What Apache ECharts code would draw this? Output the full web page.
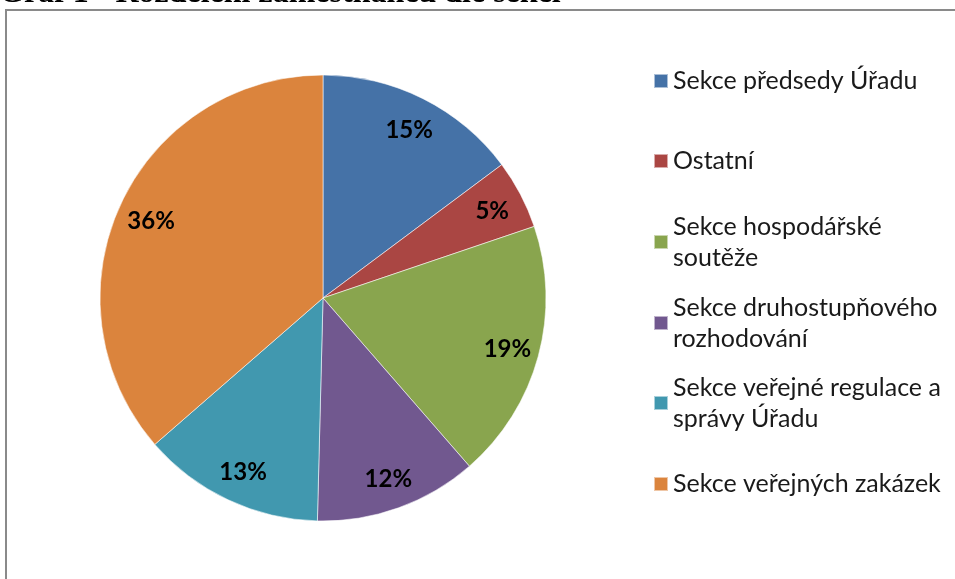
<!DOCTYPE html>
<html>
<head>
<meta charset="utf-8">
<script src="https://cdn.jsdelivr.net/npm/echarts@6/dist/echarts.min.js"></script>
<style>
html,body{margin:0;padding:0;background:#fff;}
#c{width:955px;height:579px;}
</style>
</head>
<body>
<div id="c"></div>
<script>
var titleText = 'Graf 1 - Rozdělení zaměstnanců dle sekcí';
var categories = ['Sekce předsedy Úřadu', 'Ostatní', 'Sekce hospodářské soutěže', 'Sekce druhostupňového rozhodování', 'Sekce veřejné regulace a správy Úřadu', 'Sekce veřejných zakázek'];
var legendLabels = ['Sekce předsedy Úřadu', 'Ostatní', 'Sekce hospodářské\nsoutěže', 'Sekce druhostupňového\nrozhodování', 'Sekce veřejné regulace a\nsprávy Úřadu', 'Sekce veřejných zakázek'];
var values = [14.8, 5.0, 18.8, 11.8, 13.2, 36.4];
var colors = ['#4572A7', '#AA4643', '#89A54E', '#71588F', '#4198AF', '#DB843D'];

var chart = echarts.init(document.getElementById('c'), null, {renderer: 'canvas'});
var data = categories.map(function (n, i) {
  return {name: n, value: values[i], itemStyle: {color: colors[i]}};
});

var LH = 31;
var iconY = [80, 160, 241, 322, 402, 483];
var legends = categories.map(function (n, i) {
  var lines = legendLabels[i].split('\n').length;
  var extra = (lines - 1) * LH;
  return {
    orient: 'vertical',
    left: 653,
    top: iconY[i] - LH / 2 - extra + 1,
    padding: 0,
    itemWidth: 14,
    itemHeight: 14,
    itemGap: 6,
    icon: 'rect',
    selectedMode: false,
    data: [n],
    formatter: function () { return legendLabels[i]; },
    textStyle: {
      fontFamily: 'Lato',
      fontSize: 25,
      color: '#1a1a1a',
      lineHeight: LH,
      padding: [extra, 0, 0, 0]
    }
  };
});

chart.setOption({
  animation: false,
  backgroundColor: '#fff',
  color: colors,
  legend: legends,
  graphic: [
    {
      type: 'rect',
      shape: {x: 6, y: 10, width: 1000, height: 700},
      style: {fill: 'none', stroke: '#8a8a8a', lineWidth: 2},
      silent: true
    },
    {
      type: 'text',
      left: -1,
      top: -22,
      style: {text: titleText, font: 'bold 32px "Liberation Serif"', fill: '#000'},
      silent: true
    }
  ],
  series: [
    {
      type: 'pie',
      center: [323, 298],
      radius: [0, 223],
      startAngle: 90,
      clockwise: true,
      silent: true,
      label: {show: false},
      labelLine: {show: false},
      itemStyle: {borderColor: 'rgba(255,255,255,0.55)', borderWidth: 1},
      data: data
    },
    {
      type: 'pie',
      center: [323, 298],
      radius: [151, 223],
      startAngle: 90,
      clockwise: true,
      silent: true,
      percentPrecision: 0,
      itemStyle: {color: 'rgba(0,0,0,0)', borderWidth: 0},
      label: {
        show: true,
        position: 'inside',
        formatter: '{d}%',
        fontFamily: 'Lato',
        fontWeight: 'bold',
        fontSize: 24,
        color: '#000',
        offset: [1, 2]
      },
      labelLine: {show: false},
      data: categories.map(function (n, i) { return {name: n, value: values[i]}; })
    }
  ]
});
</script>
</body>
</html>
